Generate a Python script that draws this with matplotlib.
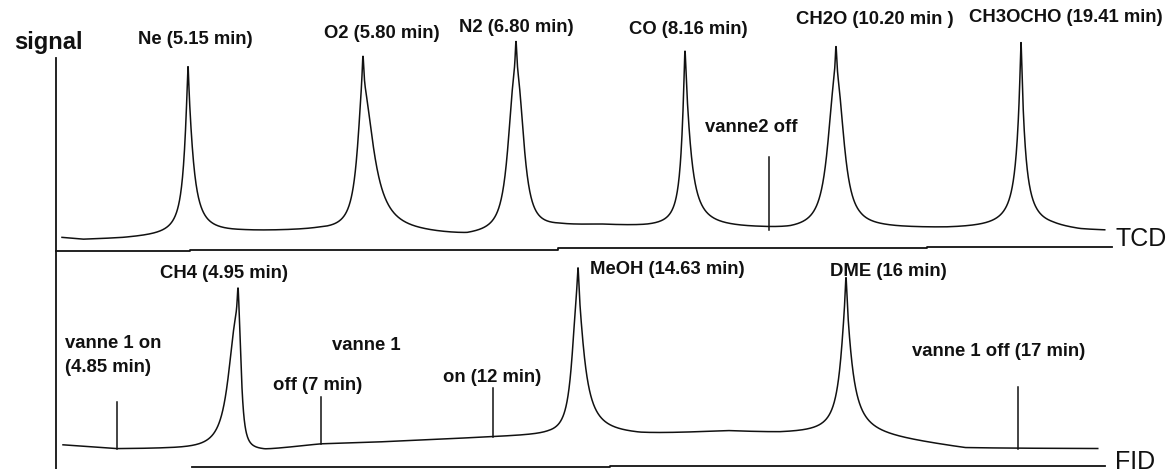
import numpy as np
import matplotlib
matplotlib.use("Agg")
import matplotlib.pyplot as plt

# drawing units = pixels of the original sketch (x to the right, y downwards)

# TCD trace: peaks (apex x, apex y, left/right width, left/right tail exponent)
TCD_NAMES = ["Ne (5.15 min)", "O2 (5.80 min)", "N2 (6.80 min)", "CO (8.16 min)",
             "CH2O (10.20 min )", "CH3OCHO (19.41 min)"]
TCD_POS = [188, 363, 516, 685, 836, 1021]
TCD_APEX = [67, 57, 43, 52, 48, 43]
TCD_WL = [4.5, 6.5, 8.7, 4.0, 9.2, 4.6]
TCD_WR = [5.8, 12.5, 8.7, 6.3, 9.2, 4.6]
TCD_PL = [1.7, 2.0, 2.5, 1.7, 2.3, 1.5]
TCD_PR = [1.7, 2.0, 2.5, 1.7, 2.3, 1.5]
TCD_LABEL_X = [138, 324, 459, 629, 796, 969]
TCD_LABEL_Y = [39, 34, 27, 30, 19, 18]

# TCD baseline knots
TCD_BASE_X = [62, 83, 123, 243, 317, 423, 467, 560, 600, 647, 757, 790, 860, 897, 947, 1053, 1080, 1105]
TCD_BASE_Y = [238, 240, 239, 233, 231, 235, 237, 227, 226, 228, 230, 231, 228, 229, 230, 230, 232, 232]

# FID trace
FID_NAMES = ["CH4 (4.95 min)", "MeOH (14.63 min)", "DME (16 min)"]
FID_POS = [238, 578, 846]
FID_APEX = [288, 268, 278]
FID_WL = [10.6, 6.7, 6.3]
FID_WR = [3.7, 7.5, 6.8]
FID_PL = [2.4, 2.3, 1.8]
FID_PR = [2.4, 1.7, 1.6]
FID_LABEL_X = [160, 590, 830]
FID_LABEL_Y = [274, 269, 272]

FID_BASE_X = [63, 117, 165, 265, 320, 380, 493, 548, 640, 727, 780, 846, 965, 1098]
FID_BASE_Y = [445, 449, 449, 450, 444, 442, 437, 435, 436, 432, 434, 434, 449, 449]

# valve events: x position, top of the tick, which trace
EVENT_X = [769, 117, 321, 493, 1018]
EVENT_TOP = [157, 402, 397, 388, 387]
EVENT_TRACE = ["TCD", "FID", "FID", "FID", "FID"]

NOTES = ["vanne2 off", "vanne 1 on", "(4.85 min)", "vanne 1", "off (7 min)",
         "on (12 min)", "vanne 1 off (17 min)"]
NOTE_X = [705, 65, 65, 332, 273, 443, 912]
NOTE_Y = [128, 343, 367, 345, 386, 377, 352]

FONT = "Liberation Sans"


def peak(x, x0, height, wl, wr, pl, pr):
    dx = x - x0
    g = np.where(dx < 0, wl, wr)
    p = np.where(dx < 0, pl, pr)
    body = 0.82 * height / (1 + np.abs(dx / g) ** p)
    spike = 0.18 * height / (1 + (dx / 1.0) ** 2)
    return body + spike


def trace(base_x, base_y, pos, apex, wl, wr, pl, pr):
    x = np.arange(base_x[0], base_x[-1], 0.25)
    base = np.interp(x, base_x, base_y)
    y = base.copy()
    for k in range(len(pos)):
        h = np.interp(pos[k], base_x, base_y) - apex[k]
        y = y - peak(x, pos[k], h, wl[k], wr[k], pl[k], pr[k])
    return x, y


def main():
    fig = plt.figure(figsize=(11.7, 4.69), dpi=100)
    ax = fig.add_axes([0, 0, 1, 1])
    ax.set_xlim(0, 1170)
    ax.set_ylim(469, 0)
    ax.axis("off")

    ink = "#111111"

    x, y = trace(TCD_BASE_X, TCD_BASE_Y, TCD_POS, TCD_APEX, TCD_WL, TCD_WR, TCD_PL, TCD_PR)
    ax.plot(x, y, color=ink, lw=1.1)
    x, y = trace(FID_BASE_X, FID_BASE_Y, FID_POS, FID_APEX, FID_WL, FID_WR, FID_PL, FID_PR)
    ax.plot(x, y, color=ink, lw=1.1)

    # axis frame
    ax.plot([56, 56], [58, 469], color=ink, lw=1.3)
    ax.plot([56, 190, 190, 558, 558, 927, 927, 1112],
            [251.5, 251.5, 250, 250, 248.5, 248.5, 247, 247], color=ink, lw=1.3)
    ax.plot([192, 610, 610, 1105], [467.5, 467.5, 466.5, 466.5], color=ink, lw=1.3)

    # valve ticks
    for ex, top, tr in zip(EVENT_X, EVENT_TOP, EVENT_TRACE):
        if tr == "TCD":
            bottom = np.interp(ex, TCD_BASE_X, TCD_BASE_Y)
        else:
            bottom = np.interp(ex, FID_BASE_X, FID_BASE_Y)
        ax.plot([ex, ex], [top, bottom], color=ink, lw=1.1)

    for name, lx, ly in zip(TCD_NAMES, TCD_LABEL_X, TCD_LABEL_Y):
        ax.text(lx, ly, name, ha="left", va="center", fontsize=13.3,
                fontweight="bold", family=FONT, color=ink)
    for name, lx, ly in zip(FID_NAMES, FID_LABEL_X, FID_LABEL_Y):
        ax.text(lx, ly, name, ha="left", va="center", fontsize=13.3,
                fontweight="bold", family=FONT, color=ink)
    for name, lx, ly in zip(NOTES, NOTE_X, NOTE_Y):
        ax.text(lx, ly, name, ha="left", va="center", fontsize=13.3,
                fontweight="bold", family=FONT, color=ink)

    ax.text(14, 42, "signal", ha="left", va="center", fontsize=17,
            fontweight="bold", family=FONT, color=ink)
    ax.text(1115, 239, "TCD", ha="left", va="center", fontsize=18, family=FONT, color=ink)
    ax.text(1115, 462, "FID", ha="left", va="center", fontsize=18, family=FONT, color=ink)

    fig.savefig("out.png", dpi=100, facecolor="white")


if __name__ == "__main__":
    main()
